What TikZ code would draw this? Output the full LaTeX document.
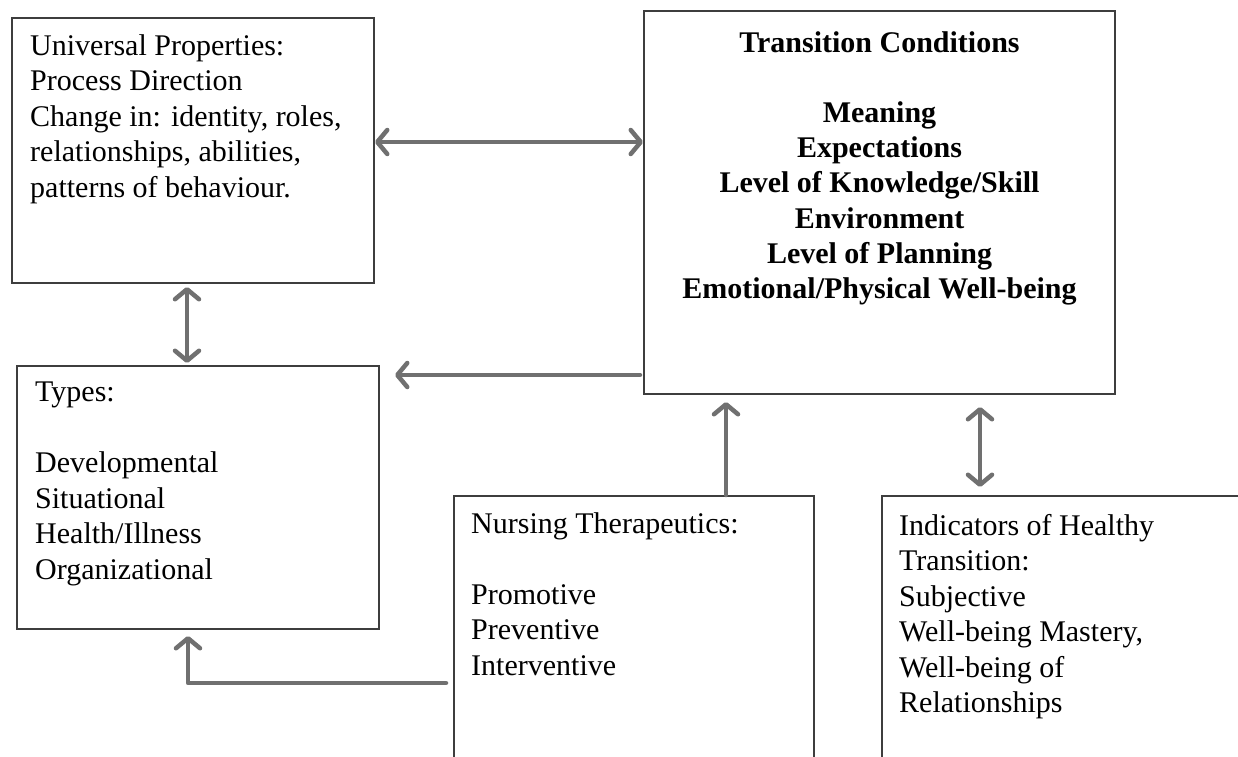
\documentclass[tikz,border=0pt]{standalone}
\usepackage{fontspec}
\setmainfont{Liberation Serif}
\usetikzlibrary{arrows.meta}
\usetikzlibrary{positioning}
\definecolor{boxgray}{RGB}{62, 62, 62}
\definecolor{linkgray}{RGB}{112, 112, 112}
\tikzset{box/.style = {draw = boxgray, line width = 2pt, inner sep = 0, anchor = north west}}
\tikzset{txt/.style = {inner sep = 0, anchor = north west, align = left,
                       font = \fontsize{30}{35.5}\selectfont}}
\tikzset{head/.style = {txt, align = center,
                        font = \fontsize{30}{35.2}\selectfont\bfseries}}
\tikzset{link/.style = {draw = linkgray, line width = 4.5pt, line cap = round, line join = round,
                        >={Straight Barb[length = 10pt, width = 24pt, round]}}}

\begin{document}
\begin{tikzpicture}[x = 1pt, y = -1pt]
      \useasboundingbox (0, 0) rectangle (1238, 756);
      \clip (0, 0) rectangle (1238, 756);

      \node [box, minimum width = 362, minimum height = 265] (uni) at (11, 17) {};
      \node [box, minimum width = 471, minimum height = 383] (cond) at (643, 10) {};
      \node [box, minimum width = 362, minimum height = 263] (types) at (16, 365) {};
      \node [box, minimum width = 360, minimum height = 330] (nurs) at (453, 495) {};
      \node [box, minimum width = 420, minimum height = 330] (ind) at (881, 495) {};

      \node [txt, below right = 17pt and 19pt of uni.north west] (unitext)
            {Universal Properties:\\Process Direction\\Change in: identity, roles,\\
             relationships, abilities,\\patterns of behaviour.};
      \node [head, below = 21pt of cond.north] (condtext)
            {Transition Conditions\\[35.2pt]Meaning\\Expectations\\Level of Knowledge/Skill\\
             Environment\\Level of Planning\\Emotional/Physical Well-being};
      \node [txt, below right = 17pt and 19pt of types.north west] (typestext)
            {Types:\\[35.5pt]Developmental\\Situational\\Health/Illness\\Organizational};
      \node [txt, below right = 17pt and 18pt of nurs.north west] (nurstext)
            {Nursing Therapeutics:\\[35.5pt]Promotive\\Preventive\\Interventive};
      \node [txt, below right = 19pt and 18pt of ind.north west] (indtext)
            {Indicators of Healthy\\Transition:\\Subjective\\Well-being Mastery,\\
             Well-being of\\Relationships};

      \draw [link, <->] (uni.east |- 0, 142) -- (cond.west |- 0, 142);
      \draw [link, <->] ([yshift = -3pt]uni.south -| 187, 0) -- ([yshift = 2pt]types.north -| 187, 0);
      \draw [link, ->] ([xshift = -3pt]cond.west |- 0, 375) -- ([xshift = 15pt]types.east |- 0, 375);
      \draw [link, ->] (nurs.north -| 726, 0) -- ([yshift = -7pt]cond.south -| 726, 0);
      \draw [link, <->] ([yshift = -12pt]cond.south -| 980, 0) -- ([yshift = 8pt]ind.north -| 980, 0);
      \draw [link, ->] ([xshift = -7pt]nurs.west |- 0, 683) -| ([yshift = -6pt]types.south -| 188, 0);
\end{tikzpicture}
\end{document}
